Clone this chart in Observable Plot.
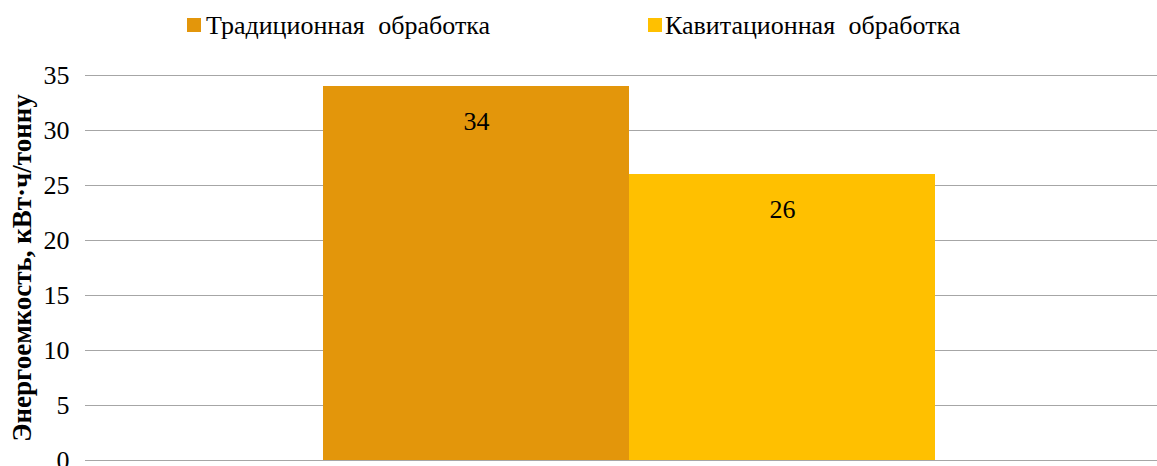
<!DOCTYPE html>
<html>
<head>
<meta charset="utf-8">
<script src="https://cdn.jsdelivr.net/npm/d3@7"></script>
<script src="https://cdn.jsdelivr.net/npm/@observablehq/plot@0.6"></script>
<style>
  html, body { margin: 0; padding: 0; background: #fff; overflow: hidden; }
  body { width: 1157px; height: 466px; position: relative; font-family: "Liberation Serif", "Times New Roman", serif; }
  #legend { position: relative; height: 52px; }
  .sw { position: absolute; top: 18px; width: 14px; height: 14px; }
  .lt { position: absolute; top: 13px; font-size: 26px; line-height: 26px; color: #000; white-space: nowrap; word-spacing: 7px; }
  #chart svg { display: block; max-width: none !important; }
</style>
</head>
<body>
<div id="legend"></div>
<div id="chart"></div>
<script>
const series = ["Традиционная обработка", "Кавитационная обработка"];
const values = [34, 26];
const colors = ["#E3960B", "#FFC000"];
const yTicks = [0, 5, 10, 15, 20, 25, 30, 35];
const yLabel = "Энергоемкость, кВт·ч/тонну";
const swatchX = [187, 648];
const labelX = [206, 665];
const FONT = "'Liberation Serif', 'Times New Roman', serif";

const data = series.map((s, i) => ({series: s, value: values[i]}));

const legend = document.getElementById("legend");
series.forEach((s, i) => {
  const sw = document.createElement("div");
  sw.className = "sw";
  sw.style.left = swatchX[i] + "px";
  sw.style.background = colors[i];
  legend.appendChild(sw);
  const t = document.createElement("div");
  t.className = "lt";
  t.style.left = labelX[i] + "px";
  t.textContent = s;
  legend.appendChild(t);
});

const chart = Plot.plot({
  width: 1165,
  height: 438,
  marginTop: 23,
  marginBottom: 30,
  marginLeft: 93,
  marginRight: 0,
  style: {fontFamily: FONT, fontSize: "26px", color: "#000", background: "#fff", overflow: "visible", maxWidth: "none"},
  x: {type: "band", domain: series, paddingInner: 0, paddingOuter: 0.746, axis: null},
  y: {domain: [0, 35], ticks: yTicks, label: null},
  color: {domain: series, range: colors},
  marks: [
    Plot.ruleY(yTicks, {stroke: "#a6a6a6", strokeWidth: 1}),
    Plot.axisY({ticks: yTicks, tickSize: 8, tickPadding: 16, stroke: "#a6a6a6", strokeOpacity: 1, fill: "#000", fontSize: 26, fontFamily: FONT, label: null}),
    Plot.barY(data, {x: "series", y: "value", fill: "series"}),
    Plot.ruleX([0], {frameAnchor: "left", stroke: "#a6a6a6", strokeWidth: 1}),
    Plot.text(data, {x: "series", y: "value", text: d => String(d.value), dy: 35.5, fontSize: 26, fontFamily: FONT, fill: "#000"}),
    Plot.text([yLabel], {frameAnchor: "left", textAnchor: "middle", rotate: -90, dx: -71, fontSize: 27, fontWeight: "bold", fontFamily: FONT, fill: "#000"})
  ]
});
chart.style.maxWidth = "none";
chart.style.fontFamily = FONT;
document.getElementById("chart").appendChild(chart);
</script>
</body>
</html>
